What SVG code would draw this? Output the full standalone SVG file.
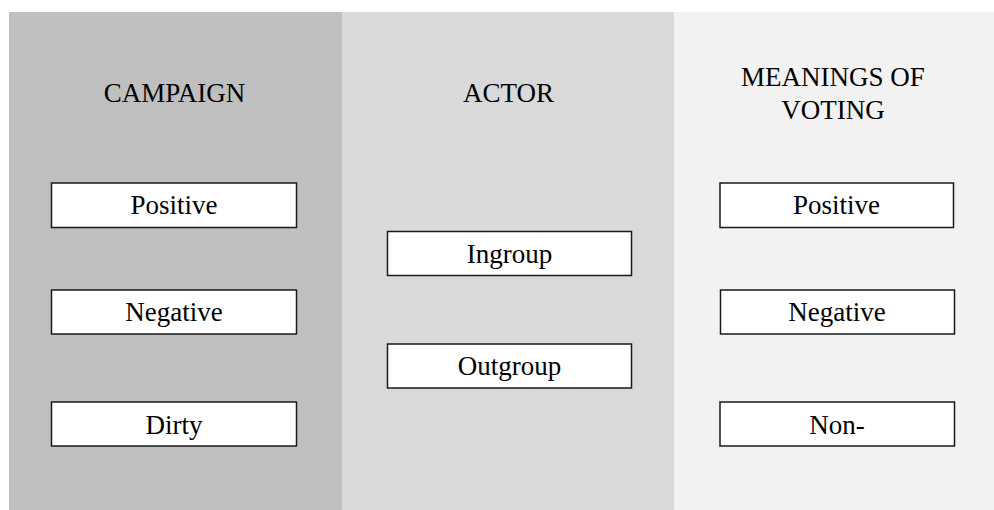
<svg xmlns="http://www.w3.org/2000/svg" width="994" height="510" viewBox="0 0 994 510">
<style>
.box{fill:#fff;stroke:#1a1a1a;stroke-width:1.5}
.t{font-family:"Liberation Serif","Times New Roman",serif;font-size:27px;fill:#000;text-anchor:middle}
.h{font-family:"Liberation Serif","Times New Roman",serif;font-size:27px;fill:#000;text-anchor:middle}
</style>
<rect width="994" height="510" fill="#fff"/>
<g id="col-campaign">
<rect x="9" y="12" width="333" height="498" fill="#bfbfbf"/>
<text class="h" x="174.5" y="101.5">CAMPAIGN</text>
</g>
<g id="col-actor">
<rect x="342" y="12" width="332" height="498" fill="#d9d9d9"/>
<text class="h" x="508.5" y="101.5">ACTOR</text>
</g>
<g id="col-meanings">
<rect x="674" y="12" width="320" height="498" fill="#f2f2f2"/>
<text class="h" x="833" y="86">MEANINGS OF</text>
<text class="h" x="833" y="118.5">VOTING</text>
</g>
<g id="c-positive"><rect class="box" x="51.5" y="183" width="245" height="44.5"/><text class="t" x="174" y="213.5">Positive</text></g>
<g id="c-negative"><rect class="box" x="51.5" y="290" width="245" height="44"/><text class="t" x="174" y="321">Negative</text></g>
<g id="c-dirty"><rect class="box" x="51.5" y="402" width="245" height="44"/><text class="t" x="174" y="433.5">Dirty</text></g>
<g id="a-ingroup"><rect class="box" x="387.5" y="231.5" width="244" height="44"/><text class="t" x="509.5" y="263">Ingroup</text></g>
<g id="a-outgroup"><rect class="box" x="387.5" y="344" width="244" height="44"/><text class="t" x="509.5" y="375">Outgroup</text></g>
<g id="m-positive"><rect class="box" x="720" y="183" width="233.5" height="44.5"/><text class="t" x="836.5" y="213.5">Positive</text></g>
<g id="m-negative"><rect class="box" x="720.5" y="290" width="234" height="44"/><text class="t" x="837" y="321">Negative</text></g>
<g id="m-non"><rect class="box" x="720" y="402" width="234.5" height="44"/><text class="t" x="837" y="433.5">Non-</text></g>
<g id="connectors"></g>
</svg>
